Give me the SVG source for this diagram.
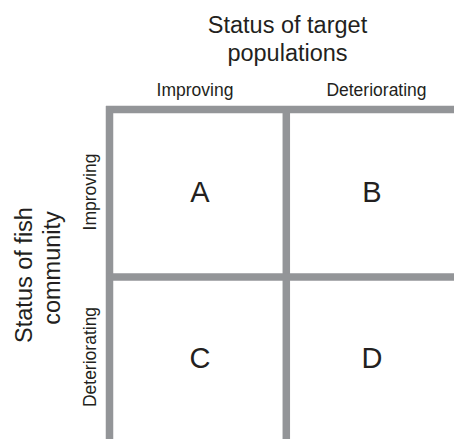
<svg xmlns="http://www.w3.org/2000/svg" width="454" height="439" viewBox="0 0 454 439">
  <style>
    text { font-family: "Liberation Sans", Arial, Helvetica, sans-serif; fill: #231f20; text-anchor: middle; }
    .axis { font-size: 23.5px; }
    .level { font-size: 17.5px; }
    .cell { font-size: 29px; }
    .grid line { stroke: #939598; stroke-width: 7.5; }
  </style>
  <rect width="454" height="439" fill="#ffffff"/>

  <!-- grid of the 2x2 matrix -->
  <g id="grid" class="grid">
    <line x1="106" y1="109.5" x2="454" y2="109.5"/>
    <line x1="109.5" y1="106" x2="109.5" y2="439"/>
    <line x1="286.3" y1="106" x2="286.3" y2="439"/>
    <line x1="106" y1="277" x2="454" y2="277"/>
  </g>

  <!-- column axis -->
  <g id="axis-top">
    <text class="axis" x="287.5" y="33">Status of target</text>
    <text class="axis" x="287.5" y="61">populations</text>
    <text class="level" x="195" y="96.3">Improving</text>
    <text class="level" x="376.5" y="96.3">Deteriorating</text>
  </g>

  <!-- row axis -->
  <g id="axis-left">
    <text class="axis" transform="translate(31.7,275) rotate(-90)">Status of fish</text>
    <text class="axis" transform="translate(59.5,268) rotate(-90)">community</text>
    <text class="level" transform="translate(96,192) rotate(-90)">Improving</text>
    <text class="level" transform="translate(96,357) rotate(-90)">Deteriorating</text>
  </g>

  <!-- cells -->
  <g id="cell-A"><text class="cell" x="200" y="201.5">A</text></g>
  <g id="cell-B"><text class="cell" x="372" y="201.5">B</text></g>
  <g id="cell-C"><text class="cell" x="200" y="368">C</text></g>
  <g id="cell-D"><text class="cell" x="372" y="368">D</text></g>
</svg>
